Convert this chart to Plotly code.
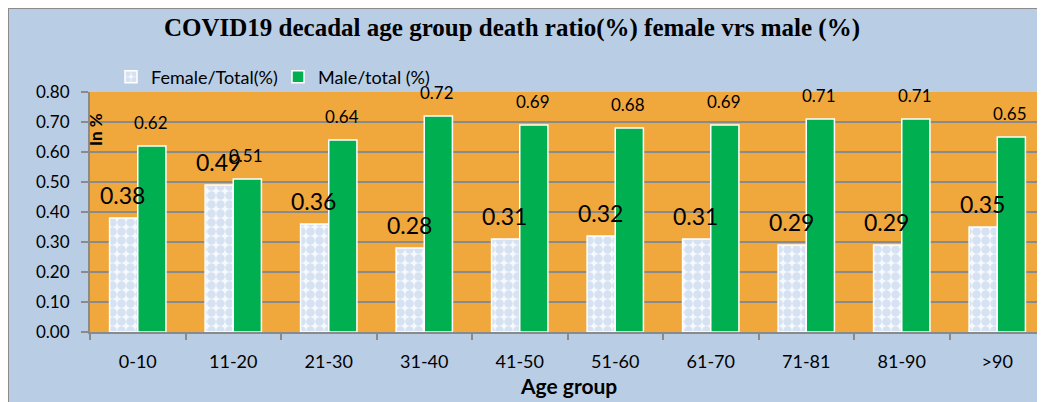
import plotly.graph_objects as go

age_groups = ["0-10", "11-20", "21-30", "31-40", "41-50", "51-60", "61-70", "71-81", "81-90", ">90"]
female_ratio = [0.38, 0.49, 0.36, 0.28, 0.31, 0.32, 0.31, 0.29, 0.29, 0.35]
male_ratio = [0.62, 0.51, 0.64, 0.72, 0.69, 0.68, 0.69, 0.71, 0.71, 0.65]
y_ticks = [0.0, 0.1, 0.2, 0.3, 0.4, 0.5, 0.6, 0.7, 0.8]

FONT = "Lato"
OFF = 8  # page body margin
W, H = 1045 - OFF, 402 - OFF
ML, MR, MT, MB = 82, 0, 84, 70
PW, PH = W - ML - MR, H - MT - MB
BAR_W = 0.295
HALF_BAR_PX = BAR_W / 2 * PW / len(age_groups)

def px_x(p):  # screen px -> paper
    return (p - OFF - ML) / PW

def px_y(p):
    return (H - MB - (p - OFF)) / PH

fig = go.Figure()
fig.add_trace(go.Bar(
    name="Female/Total(%)", x=age_groups, y=female_ratio, width=BAR_W, offset=-BAR_W,
    marker=dict(color="#F4F8FC",
                pattern=dict(shape=".", fgcolor="#B6CBE6", bgcolor="#F6F9FD", size=9, solidity=0.7),
                line=dict(color="#FFFFFF", width=1.5)),
))
fig.add_trace(go.Bar(
    name="Male/total (%)", x=age_groups, y=male_ratio, width=BAR_W, offset=0,
    marker=dict(color="#00B050", line=dict(color="#FFFFFF", width=1.5)),
))

# data labels drawn above all bars
for cat, v in zip(age_groups, male_ratio):
    fig.add_annotation(x=cat, y=v, xref="x", yref="y", text=f"{v:.2f}", showarrow=False,
                       xanchor="center", yanchor="bottom", xshift=HALF_BAR_PX - 1, yshift=11,
                       font=dict(family=FONT, size=17, color="#000000"))
for cat, v in zip(age_groups, female_ratio):
    fig.add_annotation(x=cat, y=v, xref="x", yref="y", text=f"{v:.2f}", showarrow=False,
                       xanchor="center", yanchor="bottom", xshift=-HALF_BAR_PX - 1, yshift=7,
                       font=dict(family=FONT, size=23, color="#000000"))

fig.update_layout(
    width=W, height=H,
    margin=dict(l=ML, r=MR, t=MT, b=MB),
    paper_bgcolor="#B9CDE5",
    plot_bgcolor="#F0A73C",
    barmode="overlay",
    font=dict(family=FONT, size=16, color="#000000"),
    title=dict(text="<b>COVID19 decadal age group death ratio(%) female vrs male (%)</b>",
               font=dict(family="Liberation Serif", size=25, color="#000000"),
               x=(512 - OFF) / W, xanchor="center", y=1 - (27 - OFF) / H, yanchor="middle"),
    legend=dict(orientation="h", x=px_x(111), xanchor="left", y=px_y(77), yanchor="middle",
                bgcolor="rgba(0,0,0,0)", font=dict(family=FONT, size=18),
                itemwidth=30, traceorder="normal", entrywidth=122, entrywidthmode="pixels"),
    showlegend=True,
)
fig.update_xaxes(
    showline=True, linecolor="#8A8A8A", linewidth=2,
    ticks="outside", tickson="boundaries", ticklen=6, tickcolor="#8A8A8A", tickwidth=2,
    tickfont=dict(family=FONT, size=18), ticklabelstandoff=12,
    showgrid=False,
)
fig.update_yaxes(
    range=[0, 0.8], tickvals=y_ticks, ticktext=[f"{v:.2f}" for v in y_ticks],
    showline=True, linecolor="#8A8A8A", linewidth=2,
    ticks="outside", ticklen=7, tickcolor="#8A8A8A", tickwidth=2,
    tickfont=dict(family=FONT, size=17), ticklabelstandoff=8,
    showgrid=True, gridcolor="#8A8A8A", gridwidth=2, zeroline=False,
)

fig.add_annotation(text="<b>Age group</b>", xref="paper", yref="paper",
                   x=px_x(568), y=px_y(385), xanchor="center", yanchor="middle",
                   showarrow=False, font=dict(family=FONT, size=21, color="#000000"))
fig.add_annotation(text="<b>In %</b>", xref="paper", yref="paper", textangle=-90,
                   x=px_x(95), y=px_y(130), xanchor="center", yanchor="middle",
                   showarrow=False, font=dict(family=FONT, size=17, color="#000000"))

# chart border (left and top edges of the chart area)
fig.add_shape(type="line", xref="paper", yref="paper", x0=px_x(OFF), x1=px_x(1050), y0=px_y(OFF), y1=px_y(OFF),
              line=dict(color="#8C8C8C", width=2), layer="above")
fig.add_shape(type="line", xref="paper", yref="paper", x0=px_x(OFF), x1=px_x(OFF), y0=px_y(OFF), y1=px_y(410),
              line=dict(color="#8C8C8C", width=2), layer="above")

fig.write_html("out.html")
